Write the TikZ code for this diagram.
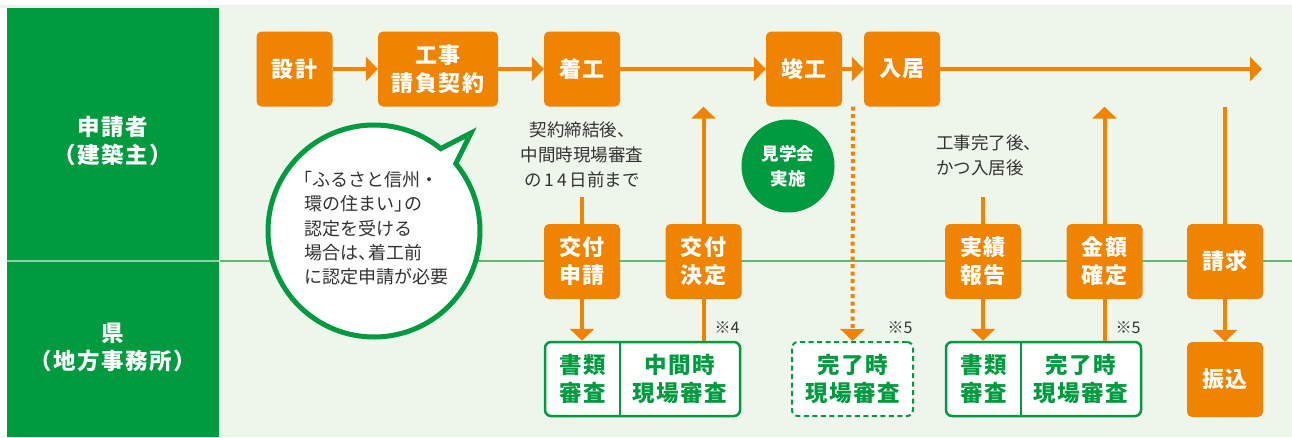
\documentclass[tikz,border=0pt]{standalone}
\usepackage{fontspec}
\setmainfont{Noto Sans CJK JP}
\newfontfamily\spjp[LetterSpace=7]{Noto Sans CJK JP}
\usetikzlibrary{arrows.meta,calc}
\definecolor{ora}{RGB}{240,131,0}
\definecolor{grn}{RGB}{0,155,62}
\definecolor{bgc}{RGB}{238,246,236}
\definecolor{txt}{RGB}{51,51,51}
\definecolor{divl}{RGB}{96,184,116}
\tikzset{
  obox/.style={fill=ora, rounded corners=5pt, inner sep=0pt, minimum width=76pt, minimum height=75pt,
    text=white, font=\spjp\bfseries\fontsize{22}{28}\selectfont, align=center},
  gbox/.style={draw=grn, line width=2.5pt, fill=white, rounded corners=6pt, inner sep=0pt, minimum height=74pt},
  dbox/.style={draw=grn, line width=2pt, dash pattern=on 5pt off 3.5pt, fill=white, rounded corners=6pt, inner sep=0pt, minimum height=74pt},
  gtext/.style={text=grn, font=\spjp\bfseries\fontsize{22.5}{28}\selectfont, align=center, inner sep=0pt, minimum height=74pt},
  lane/.style={text=white, font=\spjp\bfseries\fontsize{22.5}{28}\selectfont, align=center},
  note/.style={text=txt, font=\fontsize{17.5}{25}\selectfont, inner sep=0pt},
  refmark/.style={text=txt, font=\fontsize{16}{18}\selectfont, inner sep=0pt},
  arr/.style={draw=ora, line width=4pt, -{Triangle[length=12pt,width=24pt]}},
  ln/.style={draw=ora, line width=4pt},
  dotarr/.style={draw=ora, line width=4pt, dash pattern=on 4pt off 3.5pt, -{Triangle[length=12pt,width=24pt]}},
}
\begin{document}
\begin{tikzpicture}[x=1pt,y=-1pt]
\useasboundingbox (0,0) rectangle (1292,437);
% background
\fill[white] (0,0) rectangle (1292,437);
\fill[black!6] (0,5) rectangle (1292,8);
\fill[bgc] (220,8) rectangle (1292,437);
\fill[grn] (7,8) rectangle (219,437);
\draw[white!55!grn, line width=1.2pt] (7,261) -- (219,261);
\draw[divl, line width=1.2pt] (220,261) -- (1292,261);
% lane labels
\node[lane] (lane1) at (113,141) {申請者\\（建築主）};
\node[lane] (lane2) at (113,347.5) {県\\（地方事務所）};
% top row
\node[obox] (sekkei) at (294.5,69) {設計};
\node[obox, minimum width=120pt] (keiyaku) at (438,69) {工事\\請負契約};
\node[obox] (chakko) at (582,69) {着工};
\node[obox] (shunko) at (804,69) {竣工};
\node[obox] (nyukyo) at (902,69) {入居};
\coordinate (lineend) at (1262,69);
\draw[arr] (sekkei) -- (keiyaku);
\draw[arr] (keiyaku) -- (chakko);
\draw[arr] (chakko) -- (shunko);
\draw[arr] (shunko) -- (nyukyo);
\draw[arr] (nyukyo) -- (lineend);
% middle row
\node[obox] (shinsei) at (582,261.5) {交付\\申請};
\node[obox] (kettei) at (703.5,261.5) {交付\\決定};
\node[obox] (jisseki) at (983,261.5) {実績\\報告};
\node[obox] (kakutei) at (1104.5,261.5) {金額\\確定};
\node[obox] (seikyu) at (1225,261.5) {請求};
\node[obox] (furikomi) at (1225,379.5) {振込};
% bottom boxes
\node[gbox, minimum width=195pt] (b1) at (642.5,379) {};
\node[gtext, minimum width=75pt] (b1l) at (582.5,379) {書類\\審査};
\node[gtext] (b1r) at (680,379) {中間時\\現場審査};
\draw[grn, line width=2.5pt] (b1l.east |- b1.north) -- (b1l.east |- b1.south);
\node[dbox, minimum width=121pt] (b2) at (852.5,379) {};
\node[gtext] (b2t) at (852.5,379) {完了時\\現場審査};
\node[gbox, minimum width=195pt] (b3) at (1043.5,379) {};
\node[gtext, minimum width=75pt] (b3l) at (983.5,379) {書類\\審査};
\node[gtext] (b3r) at (1081,379) {完了時\\現場審査};
\draw[grn, line width=2.5pt] (b3l.east |- b3.north) -- (b3l.east |- b3.south);
\node[refmark] (m4) at (727,328) {※4};
\node[refmark] (m5a) at (900,328) {※5};
\node[refmark] (m5b) at (1128,328) {※5};
% notes
\node[note, align=center] (note1) at (582,155) {契約締結後、\\中間時現場審査\\の\,1\,4\,日前まで};
\coordinate (n1) at (582,197);
\node[note, align=left, anchor=west] (note2) at (936,155) {工事完了後、\\かつ入居後};
\coordinate (n2) at (983,197);
% connectors
\draw[ln] (n1) -- (shinsei.north);
\draw[arr] (shinsei.south) -- (shinsei.south |- b1.north);
\draw[ln] (kettei.south) -- (kettei.south |- b1.north);
\draw[arr] (kettei.north) -- (kettei.north |- chakko.south);
\draw[dotarr] ($(shunko.south east)!0.5!(nyukyo.south west)$) -- (b2.north);
\draw[ln] (n2) -- (jisseki.north);
\draw[arr] (jisseki.south) -- (jisseki.south |- b3.north);
\draw[ln] (kakutei.south) -- (kakutei.south |- b3.north);
\draw[arr] (kakutei.north) -- (kakutei.north |- nyukyo.south);
\draw[ln] (seikyu.north |- nyukyo.south) -- (seikyu.north);
\draw[arr] (seikyu) -- (furikomi);
% visit circle
\node[circle, fill=grn, minimum size=93pt, inner sep=0pt, text=white, align=center,
  font=\bfseries\fontsize{17.5}{25}\selectfont] (kengaku) at (788,166) {見学会\\実施};
% speech bubble
\coordinate (bc) at (374,231);
\draw[grn, line width=5pt, fill=white, line join=miter]
  (471,133) -- ($(bc)+(-51:106)$) arc[start angle=-51, end angle=-399.5, radius=106] -- cycle;
\node[note, align=left, anchor=north west, font=\fontsize{18}{24.3}\selectfont] (bubbletext) at (304,171)
  {\kern-0.55em「ふるさと信州・\\環の住まい」\kern-0.45em の\\認定を受ける\\場合は、\kern-0.45em 着工前\\に認定申請が必要};
\end{tikzpicture}
\end{document}
